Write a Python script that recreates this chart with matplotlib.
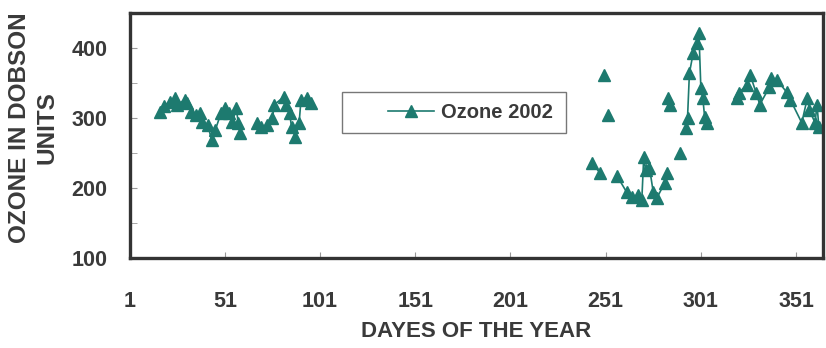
import numpy as np
import matplotlib
matplotlib.use("Agg")
import matplotlib.pyplot as plt
from matplotlib.ticker import MultipleLocator
from matplotlib.patches import Rectangle

plt.rcParams['font.family'] = ['Liberation Sans', 'DejaVu Sans']
plt.rcParams['font.weight'] = 'bold'
plt.rcParams['axes.labelweight'] = 'bold'

# day of year and total ozone (DU); None marks missing days so the line breaks
days = [17, 19, 22, 25, 26, 30, 31, 33, 36, 38, 39, 42, 44, 46, 49, 51, 53, 55, 57, 58, 59,
        63,
        68, 70, 73, 76, 77, 82, 83, 85, 86, 88, 90, 91, 94, 96,
        150,
        244, 248,
        249, 250, 251, 252, 254,
        257, 262, 265, 268, 270, 271, 272, 274, 276, 278, 282, 283,
        283.5, 284, 285, 286, 290, 291,
        293, 294, 295, 297, 299, 300, 301, 302, 303, 304,
        310,
        320, 321, 325, 327, 330, 332, 337, 338, 341, 346, 348, 354, 357, 358, 361, 362, 363]
ozone = [309, 317, 323, 329, 319, 326, 321, 309, 304, 307, 294, 290, 269, 283, 307, 314, 307, 294, 314, 293, 279,
         None,
         293, 287, 290, 300, 319, 330, 319, 307, 287, 273, 293, 326, 329, 321,
         None,
         236, 221,
         None, 361, None, 304, None,
         217, 194, 187, 190, 183, 244, 226, 229, 194, 186, 207, 221,
         None, 329, 319, None, 250, None,
         286, 300, 364, 393, 407, 421, 343, 329, 301, 293,
         None,
         329, 336, 347, 361, 336, 319, 344, 357, 354, 337, 326, 293, 329, 311, 293, 319, 287]

x_ticks = [1, 51, 101, 151, 201, 251, 301, 351]
y_ticks = [100, 200, 300, 400]

teal = '#1d7a6f'
grey = '#3a3a3a'

y = np.array([np.nan if v is None else v for v in ozone], dtype=float)

fig = plt.figure(figsize=(8.26, 3.48), dpi=100)
ax = fig.add_axes([0.157, 0.259, 0.839, 0.704])

ax.plot(days, y, color=teal, lw=1.2, marker='^', markersize=9,
        markeredgecolor=teal, markerfacecolor=teal, label='Ozone 2002')

ax.set_xlim(1, 365)
ax.set_ylim(100, 450)
ax.set_xticks(x_ticks)
ax.set_yticks(y_ticks)
ax.yaxis.set_minor_locator(MultipleLocator(50))

ax.tick_params(axis='both', which='both', direction='in', color='#999999', labelcolor=grey,
               labelsize=15.5)
ax.tick_params(axis='y', which='major', length=5, pad=16)
ax.tick_params(axis='y', which='minor', length=5)
ax.tick_params(axis='x', which='major', length=4, pad=24)

for s in ax.spines.values():
    s.set_linewidth(2.4)
    s.set_color('#333333')

ax.set_xlabel('DAYES OF THE YEAR', fontsize=16, fontweight='bold', color=grey, labelpad=6)
ax.set_ylabel('OZONE IN DOBSON\nUNITS', fontsize=17.5, fontweight='bold', color=grey,
              linespacing=1.25)
ax.yaxis.set_label_coords(-0.102, 0.53)

# legend box is wider than its content, with the entry sitting right of centre
ax.add_patch(Rectangle((0.306, 0.51), 0.323, 0.168, transform=ax.transAxes,
                       facecolor='white', edgecolor='#777777', lw=1.0, zorder=4))
leg = ax.legend(loc='center', bbox_to_anchor=(0.492, 0.594), frameon=False,
                fontsize=14.5, handlelength=2.3, handletextpad=0.35)
leg.set_zorder(5)
for t in leg.get_texts():
    t.set_color(grey)
    t.set_fontweight('bold')

fig.savefig('out.png', dpi=100)
